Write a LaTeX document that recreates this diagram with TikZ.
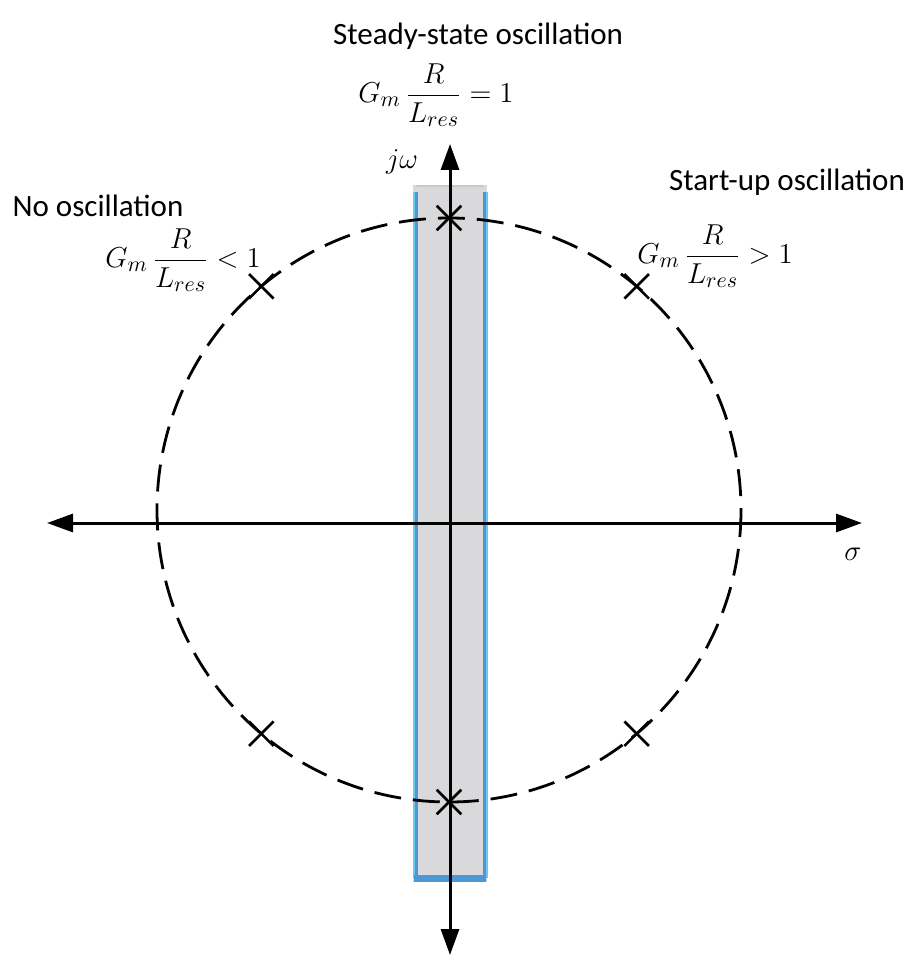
\documentclass[tikz,border=0pt]{standalone}
\usepackage{amsmath}
\usepackage[no-math]{fontspec}
\setmainfont{Carlito}
\usetikzlibrary{arrows.meta,shapes.misc}
\definecolor{bandgray}{HTML}{D9D9DB}
\definecolor{bandedge}{HTML}{C9C9CB}
\definecolor{bandblue}{HTML}{4A98D6}
\definecolor{bandcyan}{HTML}{6CC8EE}

\begin{document}
\begin{tikzpicture}[x=0.5pt, y=-0.5pt,
    axis/.style={line width=1.5pt, {Triangle[length=13pt,width=9pt]}-{Triangle[length=13pt,width=9pt]}},
    locus/.style={line width=1.4pt, dash pattern=on 13.5pt off 6pt},
    pole/.style={cross out, draw, line width=1.3pt, minimum size=11pt, inner sep=0pt},
    caption/.style={font=\fontsize{15.5}{18}\selectfont, inner sep=1pt},
    cond/.style={font=\fontsize{15.5}{18}\selectfont, inner sep=1pt},
    var/.style={font=\fontsize{15}{17}\selectfont}
]
\useasboundingbox (0,0) rectangle (914,957);
% band of poles on the j-omega axis
\fill[bandgray] (413,185) rectangle (487,882);
\draw[bandedge, line width=1pt] (416,186) -- (484,186);
\draw[bandcyan, line width=1pt] (413.5,192) -- (413.5,878);
\draw[bandcyan, line width=1pt] (486.5,192) -- (486.5,878);
\draw[bandblue, line width=1.5pt] (416,192) -- (416,878);
\draw[bandblue, line width=1.5pt] (484,192) -- (484,878);
\fill[bandblue] (414,875) rectangle (486,882);
% axes
\coordinate (ctr) at (449,510);
\coordinate (west) at (47,523);
\coordinate (east) at (862,523);
\coordinate (north) at (450,144);
\coordinate (south) at (450,955);
\draw[axis] (west) -- (east);
\draw[axis] (south) -- (north);
% root locus circle and poles
\draw[locus] (ctr) circle[radius=292];
\foreach \a in {50,90,130,230,270,310} {
    \path (ctr) ++(-\a:292) node[pole] (p\a) {};
}
% labels
\node[var] (jw) at (402,162) {$j\omega$};
\node[var] (sig) at (853,554) {$\sigma$};
\node[caption] (steady) at (478,36) {Steady-state oscillation};
\node[cond] (eqmid) at (436,95) {$G_m\,\dfrac{R}{L_{res}}=1$};
\node[caption] (startup) at (787,182) {Start-up oscillation};
\node[cond] (eqright) at (715,256) {$G_m\,\dfrac{R}{L_{res}}>1$};
\node[caption] (noosc) at (98,206) {No oscillation};
\node[cond] (eqleft) at (183,260) {$G_m\,\dfrac{R}{L_{res}}<1$};
\end{tikzpicture}
\end{document}
